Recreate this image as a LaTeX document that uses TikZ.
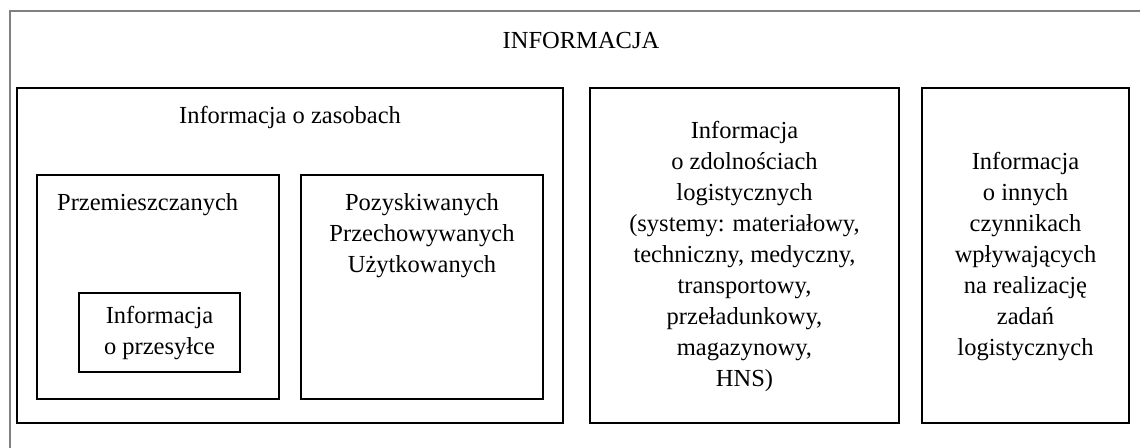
\documentclass[tikz,border=0pt]{standalone}
\usepackage{fontspec}
\setmainfont{Liberation Serif}
\begin{document}
\begin{tikzpicture}[x=1pt,y=-1pt,
  box/.style={draw=black, line width=2.6pt, inner sep=0pt, outer sep=0pt},
  lbl/.style={font=\fontsize{24.5}{31}\selectfont, align=center, inner sep=0pt},
  frame/.style={draw=black!50, line width=2pt}]
\useasboundingbox (0,0) rectangle (1140,447);
% outer frame
\coordinate (fbl) at (10,452);
\coordinate (ftl) at (10,11);
\coordinate (ftr) at (1145,11);
\draw[frame] (fbl) -- (ftl) -- (ftr);
\node[lbl, anchor=base] (title) at (581,48) {INFORMACJA};
% boxes
\node[box, anchor=north west, minimum width=546, minimum height=335] (zas) at (17,88) {};
\node[box, anchor=north west, minimum width=242, minimum height=224] (prz) at (37,175) {};
\node[box, anchor=north west, minimum width=161, minimum height=79] (inn) at (79,293) {};
\node[box, anchor=north west, minimum width=242, minimum height=224] (poz) at (301,175) {};
\node[box, anchor=north west, minimum width=309, minimum height=335] (zdo) at (590,88) {};
\node[box, anchor=north west, minimum width=207, minimum height=335] (czy) at (922,88) {};
% texts
\node[lbl, anchor=base] (zasT) at ([yshift=-35]zas.north) {Informacja o zasobach};
\node[lbl, anchor=base west] (przT) at (57,210) {Przemieszczanych};
\node[lbl, anchor=north] (pozT) at ([yshift=-18]poz.north) {Pozyskiwanych\\Przechowywanych\\Użytkowanych};
\node[lbl] (innT) at ([yshift=-1]inn.center) {Informacja\\o przesyłce};
\node[lbl] (zdoT) at ([yshift=-1]zdo.center) {Informacja\\o zdolnościach\\logistycznych\\(systemy: materiałowy,\\techniczny, medyczny,\\transportowy,\\przeładunkowy,\\magazynowy,\\HNS)};
\node[lbl] (czyT) at ([yshift=-1]czy.center) {Informacja\\o innych\\czynnikach\\wpływających\\na realizację\\zadań\\logistycznych};
\end{tikzpicture}
\end{document}
